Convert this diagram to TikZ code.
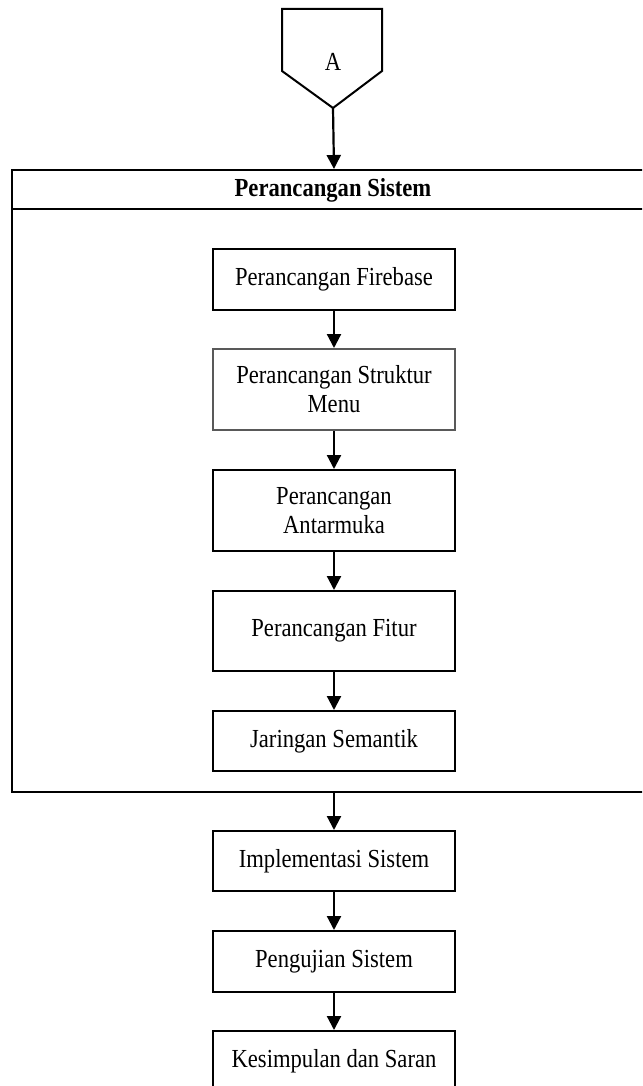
\documentclass[tikz,border=0pt]{standalone}
\usepackage{fontspec}
\setmainfont{Liberation Serif}[FakeStretch=0.87]
\usetikzlibrary{arrows.meta}

\def\boxwidth{242}
\def\midx{334}
\def\framewidth{644}
\def\frameheight{622}
\newcommand\stepfont{\fontsize{26}{29}\selectfont}

\begin{document}
\begin{tikzpicture}[x=1pt,y=-1pt,
        stepbox/.style={%
            draw,line width=2pt,
            minimum width=\boxwidth pt,
            minimum height=#1 pt,
            inner sep=0pt,
            align=center,font=\stepfont,
        },
        stepbox/.default=61,
        flow/.style={line width=2.2pt,-{Triangle[length=14pt,width=14pt]}},
    ]
    \useasboundingbox (0,0) rectangle (642,1086);
    \clip (0,0) rectangle (642,1086);

    % off page connector
    \draw[line width=2pt] (282,9) -- (382,9) -- (382,71) -- (333,108) coordinate (tipA) -- (282,71) -- cycle;
    \node[font=\stepfont] (labelA) at (333,62) {A};

    % container
    \node[draw,line width=2pt,anchor=north west,
        minimum width=\framewidth pt,minimum height=\frameheight pt,inner sep=0pt] (frame) at (11,169) {};
    \coordinate (headl) at (11,209);
    \coordinate (headr) at (655,209);
    \draw[line width=2pt] (headl) -- (headr);
    \node[font=\stepfont\bfseries] (title) at (333,190) {Perancangan Sistem};

    \node[stepbox] (firebase) at (\midx,279.5) {Perancangan Firebase};
    \node[stepbox=81,draw=black!65] (struktur) at (\midx,389.5) {Perancangan Struktur\\Menu};
    \node[stepbox=81] (antarmuka) at (\midx,510.5) {Perancangan\\Antarmuka};
    \node[stepbox=80] (fitur) at (\midx,631) {Perancangan Fitur};
    \node[stepbox=60] (semantik) at (\midx,741) {Jaringan Semantik};

    \node[stepbox=60] (implementasi) at (\midx,861) {Implementasi Sistem};
    \node[stepbox] (pengujian) at (\midx,961.5) {Pengujian Sistem};
    \node[stepbox=60] (kesimpulan) at (\midx,1061) {Kesimpulan dan Saran};

    \draw[flow] (tipA) -- (frame.north);
    \draw[flow] (firebase) -- (struktur);
    \draw[flow] (struktur) -- (antarmuka);
    \draw[flow] (antarmuka) -- (fitur);
    \draw[flow] (fitur) -- (semantik);
    \draw[flow] (frame.south) -- (implementasi);
    \draw[flow] (implementasi) -- (pengujian);
    \draw[flow] (pengujian) -- (kesimpulan);

\end{tikzpicture}
\end{document}
